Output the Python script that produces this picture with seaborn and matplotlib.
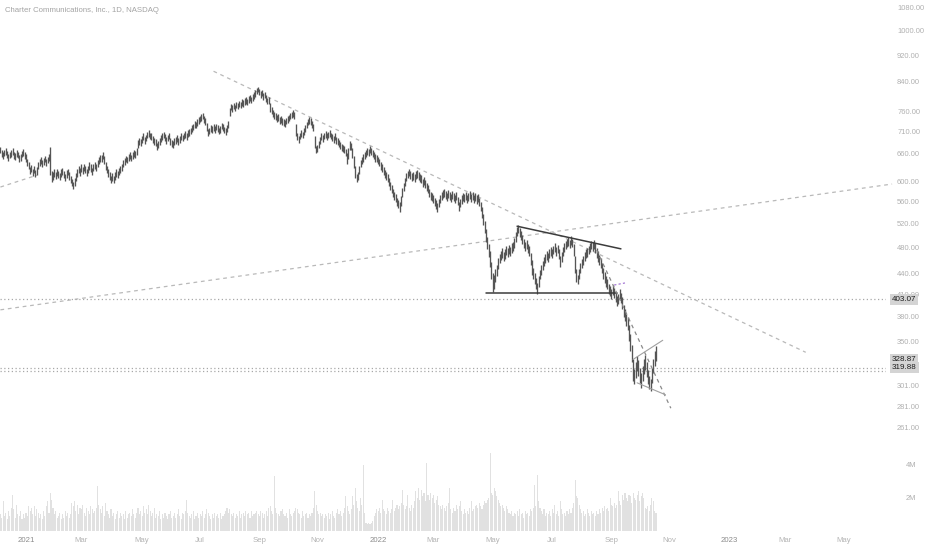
import numpy as np
import pandas as pd
import matplotlib
matplotlib.use("Agg")
import matplotlib.pyplot as plt
from matplotlib.ticker import NullLocator
import seaborn as sns

title = "Charter Communications, Inc., 1D, NASDAQ"
first_day = "2020-12-07"

# daily bars (USD)
lows = [
    660, 653, 648, 654, 657, 650, 644, 649, 653, 657,
    648, 645, 652, 650, 641, 644, 651, 655, 648, 642,
    633, 625, 615, 620, 611, 617, 609, 614, 627, 633,
    637, 631, 634, 641, 633, 638, 644, 614, 600, 604,
    610, 605, 612, 607, 603, 610, 614, 607, 601, 608,
    613, 604, 597, 591, 586, 592, 602, 610, 617, 612,
    620, 615, 622, 618, 611, 617, 624, 620, 613, 622,
    627, 621, 630, 637, 642, 640, 647, 636, 624, 617,
    610, 604, 598, 602, 598, 604, 610, 607, 614, 617,
    622, 630, 634, 640, 638, 644, 648, 643, 647, 652,
    650, 657, 672, 680, 677, 684, 690, 682, 687, 694,
    697, 692, 690, 684, 680, 676, 668, 672, 680, 686,
    690, 694, 688, 682, 687, 692, 680, 674, 672, 678,
    682, 686, 680, 684, 690, 687, 692, 695, 690, 697,
    700, 704, 710, 714, 720, 718, 724, 730, 734, 737,
    740, 732, 727, 712, 700, 704, 710, 707, 712, 708,
    714, 710, 704, 708, 716, 712, 706, 702, 710, 720,
    748, 763, 760, 766, 762, 769, 766, 771, 768, 775,
    773, 777, 781, 776, 783, 787, 782, 789, 793, 799,
    806, 811, 803, 797, 801, 791, 795, 786, 779, 781,
    760, 753, 746, 741, 739, 733, 736, 729, 731, 726,
    724, 722, 728, 732, 736, 740, 744, 747, 740, 700,
    690, 684, 692, 697, 694, 702, 710, 718, 726, 730,
    727, 720, 712, 672, 660, 664, 672, 682, 690, 686,
    692, 696, 690, 694, 698, 692, 688, 684, 690, 682,
    678, 674, 670, 666, 662, 660, 654, 636, 648, 668,
    667, 650, 628, 608, 600, 604, 616, 630, 637, 642,
    647, 652, 657, 654, 660, 656, 652, 647, 642, 640,
    637, 632, 624, 620, 614, 607, 604, 600, 592, 584,
    577, 570, 564, 560, 552, 548, 542, 552, 570, 582,
    592, 602, 607, 612, 606, 602, 604, 600, 606, 608,
    604, 600, 597, 590, 594, 588, 582, 577, 570, 564,
    562, 558, 552, 547, 542, 550, 558, 564, 567, 570,
    566, 562, 568, 564, 560, 566, 562, 558, 564, 554,
    543, 550, 557, 562, 560, 564, 558, 562, 566, 560,
    564, 558, 562, 557, 560, 552, 544, 530, 518, 504,
    490, 478, 465, 450, 432, 413, 418, 428, 436, 446,
    455, 460, 464, 459, 462, 468, 465, 470, 467, 472,
    475, 480, 490, 500, 504, 498, 492, 486, 480, 475,
    478, 471, 466, 452, 438, 432, 424, 418, 411, 420,
    431, 438, 445, 451, 455, 461, 458, 463, 467, 463,
    469, 473, 467, 471, 462, 450, 458, 467, 473, 477,
    481, 483, 479, 485, 481, 466, 440, 428, 424, 432,
    440, 448, 453, 459, 463, 465, 469, 473, 477, 475,
    478, 472, 464, 458, 452, 448, 440, 432, 426, 420,
    417, 411, 407, 404, 409, 405, 399, 394, 397, 403,
    398, 390, 380, 374, 368, 364, 350, 338, 326, 306,
    303, 309, 316, 311, 304, 299, 306, 313, 317, 310,
    303, 298, 296, 304, 314, 322, 327,
]
highs = [
    675, 668, 662, 668, 672, 666, 658, 662, 667, 671,
    663, 660, 667, 664, 656, 658, 665, 669, 663, 658,
    648, 641, 630, 635, 626, 632, 623, 630, 642, 647,
    652, 646, 650, 655, 648, 652, 659, 674, 622, 620,
    625, 620, 627, 622, 617, 625, 629, 622, 615, 623,
    627, 620, 612, 606, 600, 608, 617, 625, 632, 628,
    636, 630, 637, 633, 626, 632, 640, 636, 628, 637,
    642, 636, 646, 652, 657, 656, 662, 654, 640, 632,
    626, 619, 612, 617, 612, 619, 626, 621, 629, 632,
    637, 645, 650, 655, 652, 659, 663, 657, 662, 667,
    666, 673, 690, 696, 693, 700, 706, 698, 703, 710,
    713, 708, 706, 700, 696, 692, 684, 688, 696, 702,
    706, 710, 704, 698, 703, 708, 696, 690, 688, 694,
    698, 702, 696, 700, 706, 703, 708, 711, 706, 713,
    716, 720, 726, 730, 736, 734, 740, 746, 750, 753,
    756, 748, 743, 732, 716, 720, 726, 723, 728, 724,
    730, 726, 720, 724, 732, 728, 722, 718, 726, 736,
    768, 780, 777, 783, 778, 786, 782, 788, 784, 792,
    790, 795, 799, 793, 801, 805, 799, 807, 811, 817,
    823, 826, 821, 815, 818, 809, 812, 804, 797, 799,
    782, 771, 764, 759, 757, 751, 754, 747, 749, 744,
    741, 738, 744, 748, 752, 756, 760, 764, 759, 728,
    707, 701, 708, 713, 710, 718, 726, 734, 742, 746,
    743, 736, 728, 700, 677, 680, 688, 698, 706, 702,
    708, 712, 706, 710, 714, 708, 704, 700, 706, 698,
    694, 690, 686, 682, 678, 676, 670, 660, 672, 688,
    684, 672, 655, 632, 616, 620, 633, 646, 653, 658,
    663, 668, 673, 670, 676, 672, 668, 663, 658, 656,
    653, 648, 640, 636, 630, 623, 620, 616, 608, 600,
    593, 586, 580, 576, 568, 564, 560, 572, 588, 598,
    607, 618, 622, 626, 622, 618, 620, 616, 621, 623,
    620, 616, 613, 606, 610, 604, 598, 593, 586, 580,
    578, 574, 568, 563, 558, 566, 574, 580, 583, 586,
    582, 578, 584, 580, 576, 582, 578, 574, 580, 570,
    560, 566, 573, 578, 576, 580, 574, 578, 582, 576,
    580, 574, 578, 573, 576, 568, 560, 550, 538, 526,
    512, 498, 486, 474, 458, 440, 438, 446, 453, 463,
    469, 475, 479, 473, 477, 483, 479, 485, 481, 487,
    489, 496, 506, 514, 518, 513, 507, 501, 495, 489,
    492, 486, 482, 472, 460, 448, 440, 433, 426, 436,
    445, 452, 459, 465, 469, 475, 472, 477, 481, 477,
    483, 487, 481, 485, 477, 467, 473, 481, 487, 491,
    495, 497, 493, 499, 495, 486, 466, 446, 438, 447,
    455, 462, 467, 473, 477, 479, 483, 487, 491, 489,
    492, 488, 480, 474, 468, 464, 456, 448, 442, 436,
    431, 425, 421, 417, 423, 419, 413, 407, 411, 417,
    412, 406, 396, 390, 384, 380, 370, 358, 346, 330,
    318, 326, 333, 328, 320, 314, 322, 330, 334, 326,
    317, 311, 308, 320, 330, 338, 344,
]
# volume in millions of shares
volumes = [
    1.0, 0.8, 1.8, 0.9, 1.1, 0.7, 1.2, 0.9, 1.4, 2.2,
    1.3, 0.8, 1.6, 1.0, 0.9, 1.2, 0.7, 1.0, 0.8, 1.1,
    0.9, 1.5, 1.2, 1.4, 1.0, 1.5, 0.9, 1.3, 1.1, 0.8,
    1.0, 0.7, 1.2, 0.9, 1.5, 1.8, 1.1, 2.3, 1.9, 1.4,
    1.0, 1.2, 0.8, 0.9, 1.1, 0.7, 1.0, 0.8, 1.2, 0.9,
    1.1, 0.8, 1.0, 1.7, 1.5, 1.8, 1.2, 1.6, 1.0, 1.4,
    1.3, 1.6, 1.1, 0.9, 1.4, 1.2, 1.0, 1.5, 1.3, 1.1,
    1.2, 1.4, 2.7, 1.6, 1.3, 1.1, 1.5, 0.9, 1.7, 1.2,
    1.0, 0.8, 1.3, 0.9, 1.1, 0.7, 1.0, 1.2, 0.8, 1.1,
    0.9, 1.0, 0.7, 1.2, 0.8, 1.0, 1.1, 0.9, 1.3, 1.0,
    0.8, 1.1, 1.4, 1.0, 1.2, 0.9, 1.5, 1.1, 1.3, 1.0,
    1.6, 1.2, 0.9, 1.1, 1.4, 0.8, 1.0, 0.9, 1.2, 0.7,
    1.0, 0.8, 1.1, 0.9, 0.7, 1.0, 1.2, 0.8, 0.9, 1.1,
    0.8, 1.0, 1.3, 0.9, 0.7, 1.1, 1.0, 1.2, 1.9, 1.1,
    0.9, 0.8, 1.0, 1.2, 0.7, 0.9, 1.1, 0.8, 1.0, 0.9,
    1.2, 0.8, 1.0, 1.3, 1.1, 0.9, 0.7, 1.0, 0.8, 1.1,
    0.9, 1.0, 0.8, 1.1, 0.7, 0.9, 1.0, 1.2, 1.4, 1.1,
    1.3, 1.0, 0.9, 1.1, 0.8, 1.0, 0.9, 1.2, 0.8, 1.0,
    1.1, 0.9, 1.2, 1.0, 1.1, 0.8, 1.2, 0.9, 1.0, 1.1,
    1.2, 1.0, 0.9, 1.2, 1.1, 0.8, 1.0, 1.2, 0.9, 1.4,
    1.5, 1.2, 1.0, 3.3, 1.4, 1.1, 1.0, 0.9, 1.2, 1.3,
    1.0, 0.9, 1.1, 0.8, 1.3, 1.0, 0.9, 1.1, 1.2, 1.4,
    1.3, 1.1, 1.0, 0.8, 1.2, 0.9, 1.0, 1.1, 0.8, 1.0,
    0.9, 1.1, 1.4, 2.4, 1.6, 1.2, 1.0, 1.1, 0.9, 1.0,
    0.8, 1.0, 0.9, 1.1, 0.7, 1.0, 1.2, 0.9, 0.8, 1.1,
    1.3, 1.0, 1.2, 0.9, 1.1, 1.4, 2.1, 1.5, 1.2, 1.0,
    1.3, 2.1, 1.6, 2.6, 1.8, 1.4, 1.2, 2.0, 1.6, 4.0,
    1.1, 0.5, 0.4, 0.5, 0.4, 0.5, 0.6, 0.9, 1.1, 1.3,
    1.2, 1.4, 1.1, 1.9, 1.3, 1.2, 1.0, 1.4, 1.2, 1.1,
    1.3, 1.9, 1.2, 1.4, 1.6, 1.3, 1.5, 1.7, 2.5, 1.6,
    1.3, 1.5, 2.2, 1.4, 1.2, 1.6, 1.4, 1.8, 2.4, 2.0,
    2.6, 1.9, 2.5, 2.1, 2.3, 1.8, 4.1, 2.2, 1.9, 2.3,
    2.0, 2.2, 1.7, 1.9, 2.1, 1.6, 1.5, 1.3, 1.6, 1.4,
    1.2, 1.5, 1.7, 2.6, 1.3, 1.1, 1.4, 1.2, 1.6, 1.3,
    1.5, 1.8, 1.2, 1.0, 1.3, 1.1, 1.2, 1.0, 1.4, 1.8,
    1.2, 1.3, 1.5, 1.6, 1.4, 1.7, 1.5, 1.3, 1.6, 1.8,
    1.7, 1.9, 2.0, 4.7, 2.3, 2.2, 2.6, 2.4, 2.1, 1.9,
    1.7, 1.5, 1.6, 1.4, 1.2, 1.5, 1.3, 1.1, 1.0, 1.2,
    0.9, 1.1, 1.0, 1.2, 0.9, 1.3, 1.0, 1.1, 0.8, 1.2,
    1.0, 1.1, 0.9, 1.3, 1.2, 1.4, 2.8, 1.5, 3.4, 1.8,
    1.4, 1.2, 1.0, 1.3, 0.9, 1.1, 1.0, 1.2, 0.9, 1.3,
    1.1, 1.6, 1.0, 1.2, 0.9, 1.8, 1.3, 1.0, 1.1, 0.9,
    1.2, 1.0, 1.3, 1.1, 1.4, 1.7, 3.1, 2.1, 2.0, 1.6,
    1.3, 1.1, 1.2, 0.9, 1.0, 1.3, 1.1, 0.9, 1.2, 1.0,
    1.1, 0.9, 1.2, 1.0, 1.3, 1.1, 1.4, 1.2, 1.5, 1.3,
    1.4, 1.2, 2.0, 1.6, 1.5, 1.7, 1.4, 1.6, 2.4, 1.8,
    1.6, 2.2, 1.9, 2.3, 2.0, 1.8, 2.2, 2.1, 1.7, 2.3,
    2.0, 1.9, 2.2, 2.4, 1.8, 2.1, 2.3, 2.0, 1.4, 1.3,
    1.5, 1.2, 1.6, 2.0, 1.8, 1.2, 1.1,
]

price_ticks = [261, 281, 301, 350, 380, 410, 440, 480, 520, 560, 600,
               660, 710, 760, 840, 920, 1000, 1080]
volume_ticks = [2, 4]
volume_tick_labels = ["2M", "4M"]
date_months = ["2021-01", "2021-03", "2021-05", "2021-07", "2021-09", "2021-11",
               "2022-01", "2022-03", "2022-05", "2022-07", "2022-09", "2022-11",
               "2023-01", "2023-03", "2023-05"]
date_labels = ["2021", "Mar", "May", "Jul", "Sep", "Nov",
               "2022", "Mar", "May", "Jul", "Sep", "Nov",
               "2023", "Mar", "May"]

# horizontal levels and price tags
dotted_levels = [403.07, 319.88, 316.5]
tag_levels = [403.07, 328.87, 319.88]

# drawings: (bar index pair, price pair)
dashed_grey = [
    ([158, 597], [871, 337]),
    ([0, 661], [389, 595]),
    ([0, 27], [589, 613]),
]
solid_dark = [
    ([360, 457], [412, 412]),
    ([383, 460], [516, 478]),
]
steep_dashed = ([442, 497], [476, 279])
wedge = [
    ([469, 491], [329, 351]),
    ([472, 493], [304, 292]),
]
fib_mark = ([455, 463], [423, 426])

sns.set_style("white")
plt.rcParams["font.family"] = ["Liberation Sans", "DejaVu Sans"]

fig = plt.figure(figsize=(9.32, 5.5), dpi=100)
ax = fig.add_axes([0.0, 0.2, 886 / 932, 0.8])
axv = fig.add_axes([0.0, 19 / 550, 886 / 932, 91 / 550], sharex=ax)

n = min(len(lows), len(highs))
idx = np.arange(n)

# volume pane
vol_df = pd.DataFrame({"bar": np.arange(len(volumes)), "vol": volumes})
sns.barplot(data=vol_df, x="bar", y="vol", native_scale=True, color="#e1e1e1",
            saturation=1, width=0.8, errorbar=None, linewidth=0, ax=axv)
axv.set_ylim(0, 5.5)
axv.set_xlabel("")
axv.set_ylabel("")

# price bars
ax.vlines(idx, lows[:n], highs[:n], colors="#555555", linewidth=0.95, zorder=3)
ax.set_yscale("log")
ax.set_ylim(250.6, 1108)
ax.set_xlim(-0.3, 656.5)

for xs, ys in dashed_grey:
    ax.plot(xs, ys, color="#b9b9b9", lw=0.9, ls=(0, (3, 3)), zorder=2, clip_on=False)
for lvl in dotted_levels:
    ax.axhline(lvl, color="#a8a8a8", lw=0.9, ls=(0, (1, 2)), zorder=2)
for xs, ys in solid_dark:
    ax.plot(xs, ys, color="#3c3c3c", lw=1.1, zorder=4)
ax.plot(*steep_dashed, color="#8a8a8a", lw=0.9, ls=(0, (3, 3)), zorder=4)
for xs, ys in wedge:
    ax.plot(xs, ys, color="#a0a0a0", lw=0.8, zorder=4)
ax.plot(*fib_mark, color="#9c6ad0", lw=0.8, ls=(0, (2, 2)), zorder=4)

# axes styling
for a in (ax, axv):
    for s in a.spines.values():
        s.set_visible(False)
    a.set_facecolor("none")

ax.yaxis.tick_right()
ax.yaxis.set_minor_locator(NullLocator())
ax.set_yticks(price_ticks)
ax.set_yticklabels([f"{t:.2f}" for t in price_ticks])
ax.tick_params(axis="y", length=0, pad=8, labelsize=5.4, labelcolor="#b0b0b0")
ax.tick_params(axis="x", length=0, labelbottom=False)
ax.set_ylabel("")

axv.yaxis.tick_right()
axv.set_yticks(volume_ticks)
axv.set_yticklabels(volume_tick_labels)
axv.tick_params(axis="y", length=0, pad=14, labelsize=5.4, labelcolor="#b0b0b0")

full_days = pd.bdate_range(first_day, "2023-06-30")
tick_pos = [full_days.searchsorted(pd.Timestamp(m + "-01")) for m in date_months]
axv.set_xticks(tick_pos)
axv.set_xticklabels(date_labels)
axv.tick_params(axis="x", length=0, pad=4, labelsize=5.6, labelcolor="#b4b4b4")
for lab in axv.get_xticklabels():
    if lab.get_text().isdigit():
        lab.set_color("#8c8c8c")
axv.set_xlim(-0.3, 656.5)

# price tags on the right scale
ytr = ax.get_yaxis_transform()
for lvl in tag_levels:
    ax.text(1.0068, lvl, f"{lvl:.2f}", transform=ytr, ha="left", va="center",
            fontsize=5.8, color="#1c1c1c", zorder=10, clip_on=False,
            bbox=dict(boxstyle="square,pad=0.22", fc="#d4d4d4", ec="none"))

fig.text(5 / 932, 1 - 11 / 550, title, fontsize=5.6, color="#a3a3a3", va="center")

fig.savefig("out.png", dpi=100, facecolor="white")
